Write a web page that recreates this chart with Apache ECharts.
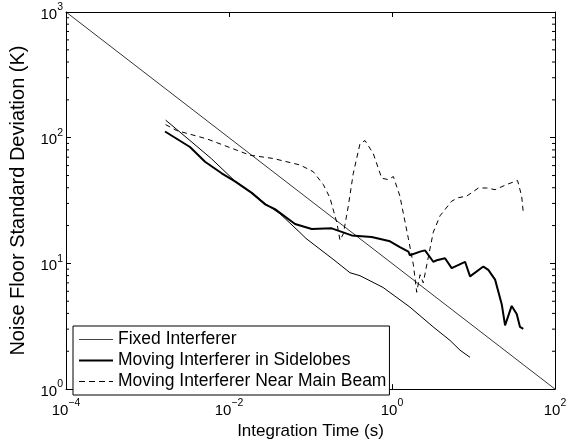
<!DOCTYPE html>
<html>
<head>
<meta charset="utf-8">
<script src="https://cdn.jsdelivr.net/npm/echarts@6/dist/echarts.min.js"></script>
<style>
  html, body { margin: 0; padding: 0; background: #fff; }
  #chart { width: 576px; height: 445px; }
</style>
</head>
<body>
<div id="chart"></div>
<script>
// Integration time (s) and noise floor standard deviation (K) for each case
const timeFixed = [0.00167, 0.00332, 0.0061, 0.0119, 0.0197, 0.0277, 0.0423, 0.0743, 0.088, 0.189, 0.305, 0.405, 0.776, 1.66, 3.19, 5.15, 6.83, 9.06];
const noiseFixed = [138, 95, 68, 45, 36, 30, 24.8, 17.6, 15.8, 10.8, 8.43, 7.98, 6.44, 4.49, 3.13, 2.44, 2.04, 1.79];

const timeSidelobe = [0.00164, 0.00332, 0.00508, 0.00813, 0.01186, 0.019, 0.0277, 0.0366, 0.0646, 0.1035, 0.182, 0.32, 0.563, 0.944, 1.25, 1.59, 1.66, 2.21, 2.54, 3.21, 3.54, 4.47, 5.40, 7.88, 9.07, 13.2, 15.2, 18.4, 22.2, 24.4, 29.4, 33.9, 37.2, 40.8];
const noiseSidelobe = [112, 84.3, 64.4, 52.1, 44.9, 36.4, 29.5, 27.0, 20.6, 18.8, 19.0, 16.7, 16.2, 15.0, 13.5, 12.4, 11.6, 12.4, 12.7, 10.3, 10.6, 11.0, 9.18, 10.3, 7.88, 9.44, 8.89, 7.43, 4.74, 3.21, 4.59, 3.96, 3.12, 3.02];

const timeMainBeam = [0.00167, 0.00228, 0.00532, 0.0181, 0.035, 0.0743, 0.108, 0.1435, 0.173, 0.21, 0.23, 0.253, 0.291, 0.335, 0.405, 0.466, 0.59, 0.748, 0.902, 1.04, 1.25, 1.59, 1.83, 2.01, 2.21, 2.42, 2.67, 3.21, 3.88, 5.40, 6.51, 8.25, 11.5, 14.5, 18.4, 25.5, 34.7, 39.0, 40.8];
const noiseMainBeam = [127, 114, 98, 72.6, 68.3, 60.7, 53.7, 42.4, 33.3, 21.2, 15.3, 17.2, 28.6, 52.1, 89.6, 95, 74.6, 47.6, 46.4, 49.1, 34.3, 15.7, 9.73, 5.89, 8.13, 7.0, 9.73, 17.7, 23.9, 31.3, 33.3, 34.3, 39.8, 39.8, 38.6, 42.4, 45.7, 34.3, 25.4];

// Ideal 1/sqrt(t) reference line, endpoints only
const timeIdeal = [1e-4, 1e2];
const noiseIdeal = [1000, 1];

const seriesNames = ['Fixed Interferer', 'Moving Interferer in Sidelobes', 'Moving Interferer Near Main Beam'];

// Minor tick values on the log y axis (2..9 per decade)
const minorTicksY = [];
[1, 10, 100].forEach(d => { for (let k = 2; k <= 9; k++) minorTicksY.push(k * d); });

const FONT = '"Liberation Sans", Arial, Helvetica, sans-serif';

function zip(a, b) { return a.map((v, i) => [v, b[i]]); }

function powLabel(value) {
  const e = Math.round(Math.log10(value));
  const s = e < 0 ? '\u2212' + (-e) : String(e);
  return '{b|10}{e|' + s + '}';
}
const labelRich = {
  b: { fontSize: 15, fontFamily: FONT, color: '#000', lineHeight: 20, verticalAlign: 'bottom' },
  e: { fontSize: 10.5, fontFamily: FONT, color: '#000', lineHeight: 20, verticalAlign: 'top' }
};

const chart = echarts.init(document.getElementById('chart'), null, { renderer: 'canvas' });

const option = {
  animation: false,
  backgroundColor: '#fff',
  textStyle: { fontFamily: FONT },
  grid: { left: 66, right: 21, top: 12, bottom: 48, containLabel: false },
  legend: {
    data: [
      { name: seriesNames[0], lineStyle: { width: 1, color: '#444' } },
      { name: seriesNames[1], lineStyle: { width: 2, color: '#000' } },
      { name: seriesNames[2], lineStyle: { width: 1, color: '#000', type: [6, 4] } }
    ],
    orient: 'vertical',
    left: 73,
    top: 326,
    backgroundColor: '#fff',
    borderColor: '#000',
    borderWidth: 1,
    borderRadius: 0,
    padding: [4, 3, 4, 5],
    itemWidth: 34,
    itemHeight: 14,
    itemGap: 2,
    itemStyle: { opacity: 0 },
    textStyle: { fontSize: 17.5, lineHeight: 19, fontFamily: FONT, color: '#000' }
  },
  xAxis: [
    {
      type: 'log', logBase: 10, min: 1e-4, max: 1e2, interval: 2,
      name: 'Integration Time (s)', nameLocation: 'middle', nameGap: 29,
      nameTextStyle: { fontSize: 17, fontFamily: FONT, color: '#000' },
      axisLine: { lineStyle: { color: '#000', width: 1 } },
      axisTick: { inside: true, length: 5, lineStyle: { color: '#000' } },
      axisLabel: { margin: 9, formatter: powLabel, rich: labelRich },
      splitLine: { show: false }
    },
    {
      type: 'log', logBase: 10, min: 1e-4, max: 1e2, interval: 2, position: 'top',
      axisLine: { lineStyle: { color: '#000', width: 1 } },
      axisTick: { inside: true, length: 5, lineStyle: { color: '#000' } },
      axisLabel: { show: false },
      splitLine: { show: false }
    }
  ],
  yAxis: [
    {
      type: 'log', logBase: 10, min: 1, max: 1000, interval: 1,
      name: 'Noise Floor Standard Deviation (K)', nameLocation: 'middle', nameGap: 38,
      nameTextStyle: { fontSize: 20, fontFamily: FONT, color: '#000' },
      axisLine: { lineStyle: { color: '#000', width: 1 } },
      axisTick: { inside: true, length: 5, lineStyle: { color: '#000' } },
      axisLabel: { margin: 3, formatter: powLabel, rich: labelRich },
      splitLine: { show: false }
    },
    {
      type: 'log', logBase: 10, min: 1, max: 1000, interval: 1, position: 'right',
      axisLine: { lineStyle: { color: '#000', width: 1 } },
      axisTick: { inside: true, length: 5, lineStyle: { color: '#000' } },
      axisLabel: { show: false },
      splitLine: { show: false }
    }
  ],
  series: [
    {
      name: 'ideal', type: 'line', data: zip(timeIdeal, noiseIdeal),
      showSymbol: false, symbol: 'none', silent: true,
      lineStyle: { color: '#000', width: 0.8 }, z: 2
    },
    {
      name: seriesNames[0], type: 'line', data: zip(timeFixed, noiseFixed),
      showSymbol: false, symbol: 'none',
      lineStyle: { color: '#000', width: 1 }, itemStyle: { color: '#000' }, z: 3
    },
    {
      name: seriesNames[1], type: 'line', data: zip(timeSidelobe, noiseSidelobe),
      showSymbol: false, symbol: 'none',
      lineStyle: { color: '#000', width: 2 }, itemStyle: { color: '#000' }, z: 3
    },
    {
      name: seriesNames[2], type: 'line', data: zip(timeMainBeam, noiseMainBeam),
      showSymbol: false, symbol: 'none',
      lineStyle: { color: '#000', width: 1, type: [5, 4] }, itemStyle: { color: '#000' }, z: 3
    },
    {
      name: 'minorTicks', type: 'custom', silent: true,
      data: minorTicksY.map(v => [1e-4, v]),
      renderItem: function (params, api) {
        const cs = params.coordSys;
        const y = api.coord([1e-4, api.value(1)])[1];
        return {
          type: 'group',
          children: [
            { type: 'line', shape: { x1: cs.x, y1: y, x2: cs.x + 3, y2: y }, style: { stroke: '#000', lineWidth: 1 } },
            { type: 'line', shape: { x1: cs.x + cs.width - 3, y1: y, x2: cs.x + cs.width, y2: y }, style: { stroke: '#000', lineWidth: 1 } }
          ]
        };
      },
      z: 1
    }
  ]
};

chart.setOption(option);
</script>
</body>
</html>
